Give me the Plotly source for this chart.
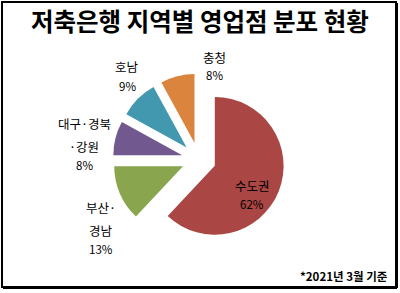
import plotly.graph_objects as go

regions = ["수도권", "부산·경남", "대구·경북·강원", "호남", "충청"]
shares = [62, 13, 8, 9, 8]
colors = ["#AA4643", "#89A54E", "#71588F", "#4198AF", "#DB843D"]
title_text = "저축은행 지역별 영업점 분포 현황"
note_text = "*2021년 3월 기준"

# label layout: how each region name wraps, and where its lines sit (pixels)
name_lines = [["수도권"], ["부산·", "경남"], ["대구·경북", "·강원"], ["호남"], ["충청"]]
label_pos = [
    (252, [185.5], 204.5),
    (101, [207, 230], 248.5),
    (84, [123.5, 146], 165),
    (127, [66], 86),
    (214, [57], 75),
]

W, H = 400, 293
FONT = "Noto Sans CJK KR"

fig = go.Figure(go.Pie(
    labels=regions,
    values=shares,
    sort=False,
    direction="clockwise",
    rotation=0,
    pull=[0.25] * len(shares),
    marker=dict(colors=colors, line=dict(width=0)),
    textinfo="none",
    domain=dict(x=[0.281, 0.713], y=[0.162, 0.749]),
    showlegend=False,
    hoverinfo="label+percent",
))

def px(x):
    return x / W

def py(y):
    return 1 - y / H

total = sum(shares)
annotations = [
    dict(text="<b>" + title_text + "</b>", x=0.5, y=py(21), xref="paper", yref="paper",
         showarrow=False, xanchor="center", yanchor="middle",
         font=dict(family=FONT, size=24.5, color="#000000")),
    dict(text="<b>" + note_text + "</b>", x=px(390), y=py(276), xref="paper", yref="paper",
         showarrow=False, xanchor="right", yanchor="middle",
         font=dict(family=FONT, size=11.5, color="#000000")),
]
for lines, share, (cx, ys, pct_y) in zip(name_lines, shares, label_pos):
    for line, yy in zip(lines, ys):
        annotations.append(dict(text=line, x=px(cx), y=py(yy), xref="paper", yref="paper",
                                showarrow=False, xanchor="center", yanchor="middle",
                                font=dict(family=FONT, size=12.5, color="#000000")))
    annotations.append(dict(text=f"{round(100 * share / total)}%", x=px(cx), y=py(pct_y),
                            xref="paper", yref="paper", showarrow=False,
                            xanchor="center", yanchor="middle",
                            font=dict(family=FONT, size=11.5, color="#000000")))

fig.update_layout(
    width=W, height=H,
    margin=dict(l=0, r=0, t=0, b=0),
    paper_bgcolor="white",
    plot_bgcolor="white",
    showlegend=False,
    annotations=annotations,
    shapes=[
        dict(type="rect", xref="paper", yref="paper", x0=px(2), y0=py(2), x1=px(396), y1=py(287),
             line=dict(color="#000000", width=2)),
        dict(type="line", xref="paper", yref="paper", x0=px(3), y0=py(288), x1=px(397), y1=py(288),
             line=dict(color="#000000", width=2)),
        dict(type="line", xref="paper", yref="paper", x0=px(397), y0=py(3), x1=px(397), y1=py(288),
             line=dict(color="#000000", width=2)),
    ],
)

fig.write_html("out.html")
